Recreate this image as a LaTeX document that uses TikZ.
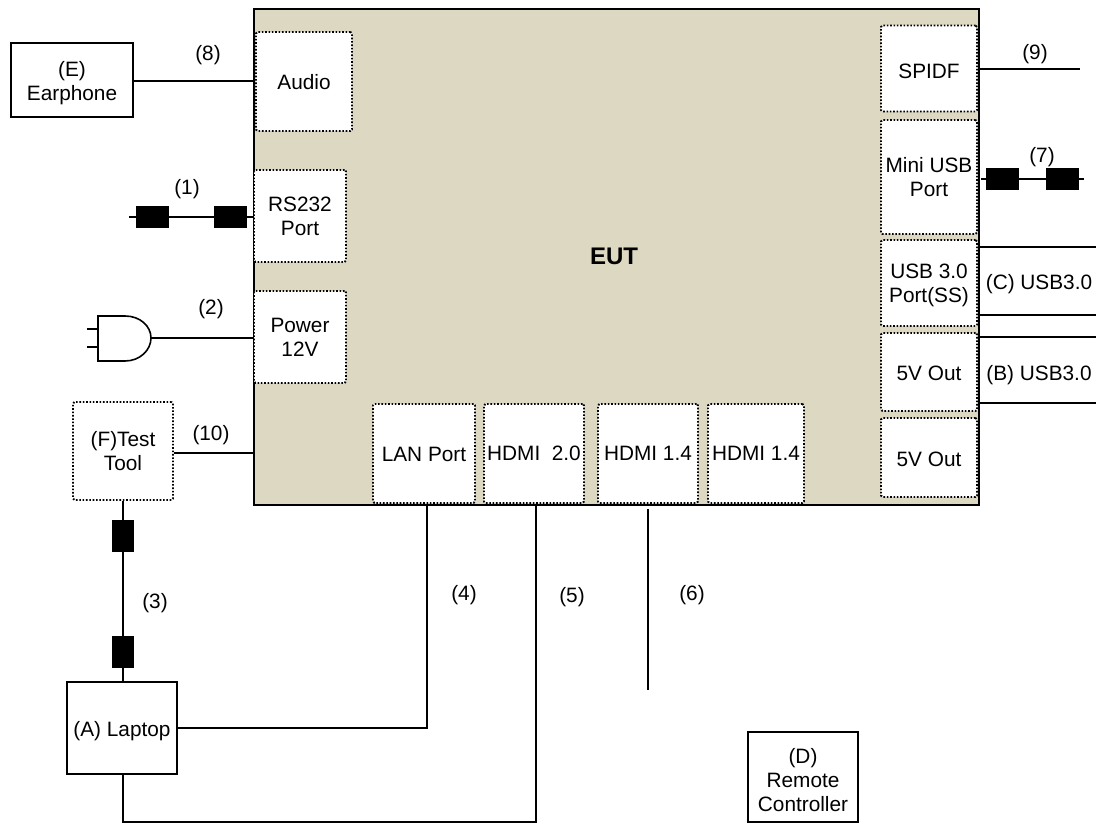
\documentclass[tikz,border=0pt]{standalone}
\usepackage{fontspec}
\setmainfont{Liberation Sans}
\definecolor{euttan}{HTML}{DDD8C2}
\newcommand{\nudge}[1]{\rule{0pt}{#1}}
\tikzset{
  base/.style={inner sep=0pt, align=center, font=\fontsize{20.8}{24}\selectfont},
  port/.style={base, fill=white, draw=black, line width=1.8pt, dash pattern=on 1.6pt off 1.75pt, rounded corners=1.5pt},
  unit/.style={base, fill=white, draw=black, line width=2pt},
  lbl/.style={base},
  plugblk/.style={fill=black, inner sep=0pt, minimum width=33pt, minimum height=22pt},
  plugblkv/.style={fill=black, inner sep=0pt, minimum width=22pt, minimum height=32pt},
  wire/.style={line width=2pt},
}
\begin{document}
\begin{tikzpicture}[x=1pt, y=-1pt, line cap=butt, line join=miter]

  %% board
  \node[draw=black, line width=2.4pt, fill=euttan, inner sep=0pt, minimum width=725pt, minimum height=496pt] (eut) at (616.5,257) {};
  \node[lbl, font=\fontsize{24}{28}\selectfont\bfseries] (eutname) at (614,256) {EUT};

  %% ports, left side
  \node[port, minimum width=96pt, minimum height=99pt] (audio) at (304,81.5) {\nudge{17pt}Audio};
  \node[port, minimum width=92pt, minimum height=92pt] (rsport) at (300,216) {RS232\\Port};
  \node[port, minimum width=92pt, minimum height=92pt] (power) at (300,337) {Power\\12V};

  %% ports, right side
  \node[port, minimum width=96pt, minimum height=86pt] (spidf) at (929,68.5) {\nudge{20pt}SPIDF};
  \node[port, minimum width=96pt, minimum height=114pt] (miniusb) at (929,177) {Mini USB\\Port};
  \node[port, minimum width=96pt, minimum height=86pt] (usbport) at (929,283) {\nudge{19pt}USB 3.0\\Port(SS)};
  \node[port, minimum width=96pt, minimum height=78pt] (fiveA) at (929,372) {\nudge{17pt}5V Out};
  \node[port, minimum width=96pt, minimum height=79pt] (fiveB) at (929,457.5) {\nudge{19pt}5V Out};

  %% ports, bottom
  \node[port, minimum width=102pt, minimum height=99pt] (lan) at (424,453.5) {\nudge{16pt}LAN Port};
  \node[port, minimum width=100pt, minimum height=99pt] (hdmiA) at (534,453.5) {HDMI\ \ 2.0};
  \node[port, minimum width=100pt, minimum height=99pt] (hdmiB) at (648,453.5) {HDMI 1.4};
  \node[port, minimum width=96pt, minimum height=99pt] (hdmiC) at (756,453.5) {HDMI 1.4};

  %% outside units
  \node[unit, minimum width=122pt, minimum height=74pt] (earphone) at (72,80) {\nudge{21pt}(E)\\Earphone};
  \node[port, minimum width=100pt, minimum height=98pt] (tool) at (123,451) {(F)Test\\Tool};
  \node[unit, minimum width=110pt, minimum height=92pt] (laptop) at (122,728) {\nudge{21pt}(A) Laptop};
  \node[unit, minimum width=110pt, minimum height=90pt] (remote) at (803,777) {\nudge{22pt}(D)\\Remote\\Controller};

  %% free ends
  \coordinate (rsend) at (129,217);
  \coordinate (rsport w) at (rsport.west |- rsend);
  \coordinate (spidfend) at (1080,69);
  \coordinate (miniend) at (1084,179);
  \coordinate (miniin) at (981,179);
  \coordinate (cabletop) at (648,509);
  \coordinate (cablebot) at (648,690);
  \coordinate (cA) at (1096,247);
  \coordinate (cB) at (1096,315);
  \coordinate (bA) at (1096,337);
  \coordinate (bB) at (1096,403);
  \coordinate (lowturn) at (123,822);

  %% cables
  \draw[wire] (earphone.east |- audio.west) -- (audio.west);
  \draw[wire] (rsend) -- (rsport w);
  \node[plugblk] (rsA) at (152.5,217) {};
  \node[plugblk] (rsB) at (230.5,217) {};
  \draw[wire] (tool.east |- 0,453) -- (eut.west |- 0,453);
  \draw[wire] (tool.south) -- (tool.south |- laptop.north);
  \node[plugblkv] (toolA) at (123,536) {};
  \node[plugblkv] (toolB) at (123,652) {};
  \draw[wire] (laptop.east) -| (lan.south -| 427,0);
  \draw[wire] (laptop.south -| lowturn) -- (lowturn) -| (eut.south -| 536,0);
  \draw[wire] (cabletop) -- (cablebot);
  \draw[wire] (eut.east |- spidfend) -- (spidfend);
  \draw[wire] (miniin) -- (miniend);
  \node[plugblk] (miniA) at (1002.5,179) {};
  \node[plugblk] (miniB) at (1062,179) {};
  \draw[wire] (eut.east |- cA) -- (cA);
  \draw[wire] (eut.east |- cB) -- (cB);
  \draw[wire] (eut.east |- bA) -- (bA);
  \draw[wire] (eut.east |- bB) -- (bB);

  %% mains plug
  \coordinate (plugtip) at (151,338);
  \draw[line width=1.6pt] (98,316) -- (125,316) .. controls (140,316) and (151,326) .. (plugtip) .. controls (151,350) and (140,361) .. (125,361) -- (98,361) -- cycle;
  \draw[line width=1.6pt] (87,329) -- (98,329) (87,347) -- (98,347);
  \draw[line width=1.6pt] (plugtip) -- (power.west |- plugtip);

  %% labels
  \node[lbl] (num8) at (208,55) {(8)};
  \node[lbl] (num1) at (187,189) {(1)};
  \node[lbl] (num2) at (211,309) {(2)};
  \node[lbl] (num10) at (211,435) {(10)};
  \node[lbl] (num3) at (155,603) {(3)};
  \node[lbl] (num4) at (464,595) {(4)};
  \node[lbl] (num5) at (572,597) {(5)};
  \node[lbl] (num6) at (692,595) {(6)};
  \node[lbl] (num9) at (1035,54) {(9)};
  \node[lbl] (num7) at (1042,157) {(7)};
  \node[lbl] (usbC) at (1039,284) {(C) USB3.0};
  \node[lbl] (usbB) at (1039,375) {(B) USB3.0};

  \pgfresetboundingbox
  \path[use as bounding box] (0,0) rectangle (1096,824);
\end{tikzpicture}
\end{document}
